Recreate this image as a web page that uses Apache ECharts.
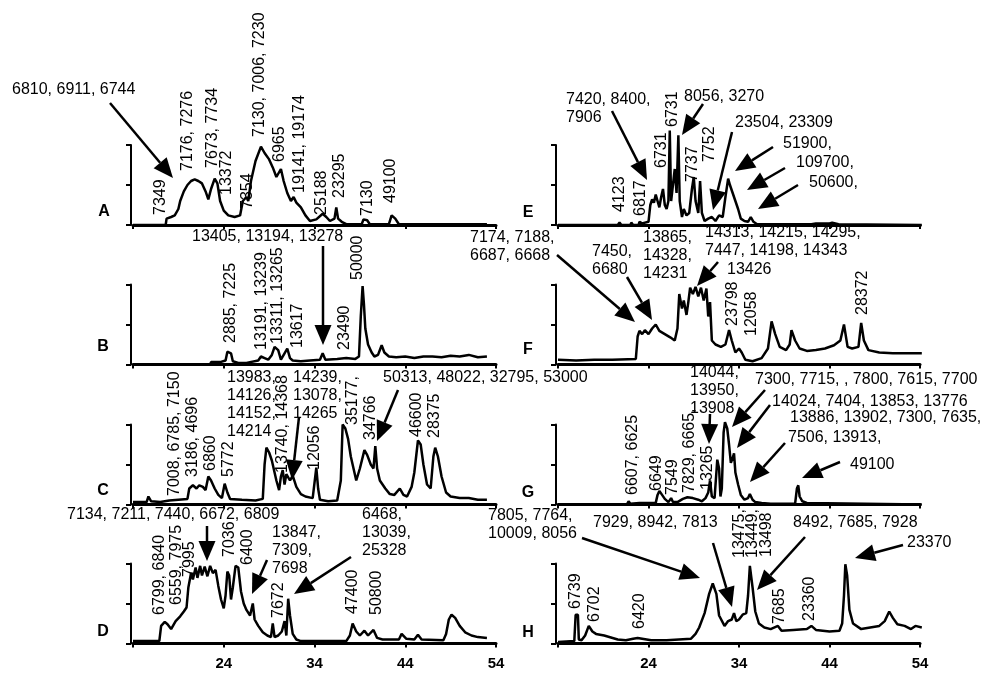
<!DOCTYPE html>
<html>
<head>
<meta charset="utf-8">
<script src="https://cdn.jsdelivr.net/npm/echarts@6/dist/echarts.min.js"></script>
<style>
html, body { margin: 0; padding: 0; background: #fff; }
#chartDiv { width: 982px; height: 673px; }
</style>
</head>
<body>
<div id="chartDiv"></div>
<script>
// 初始化图表
var myChart = echarts.init(document.getElementById('chartDiv'));

// 坐标轴
var xTicks = [14, 24, 34, 44, 54];
var panelNames = ['A', 'B', 'C', 'D', 'E', 'F', 'G', 'H'];

// 色谱曲线 (保留时间, 相对强度)
var traceA = [[14,0],[17.6,0],[17.7,0.08],[18.2,0.1],[18.6,0.12],[19.0,0.2],[19.2,0.3],[19.6,0.42],[20.0,0.5],[20.4,0.55],[20.8,0.57],[21.2,0.55],[21.6,0.52],[22.0,0.42],[22.3,0.32],[22.6,0.45],[23.0,0.58],[23.3,0.52],[23.6,0.3],[24.0,0.18],[24.5,0.12],[25.2,0.1],[25.8,0.12],[26.1,0.3],[26.5,0.35],[26.7,0.3],[27.0,0.55],[27.5,0.8],[28.1,0.98],[28.5,0.9],[29.0,0.82],[29.4,0.72],[29.8,0.6],[30.3,0.7],[30.6,0.55],[31.0,0.4],[31.4,0.3],[31.7,0.35],[32.0,0.28],[32.5,0.22],[33.0,0.12],[33.5,0.05],[34.2,0.07],[34.9,0.14],[35.3,0.1],[35.7,0.05],[36.2,0.08],[36.4,0.22],[36.6,0.08],[37.0,0.04],[37.5,0.01],[39.2,0.01],[39.4,0.07],[39.8,0.06],[40.1,0.01],[42.2,0.01],[42.5,0.12],[42.9,0.08],[43.3,0.01],[53,0.01]];
var traceB = [[14,0],[22.5,0],[22.6,0.03],[23.6,0.03],[24.2,0.05],[24.4,0.16],[24.8,0.14],[25.0,0.04],[25.6,0.02],[26.5,0.02],[27.8,0.05],[28.1,0.1],[28.5,0.08],[28.9,0.06],[29.3,0.12],[29.6,0.22],[30.0,0.18],[30.3,0.06],[30.7,0.14],[31.0,0.2],[31.3,0.08],[31.6,0.05],[32.5,0.04],[33.5,0.05],[34.6,0.06],[34.9,0.14],[35.2,0.06],[36.5,0.07],[37.5,0.08],[38.5,0.07],[38.9,0.1],[39.1,0.6],[39.3,0.98],[39.45,0.75],[39.6,0.45],[39.9,0.25],[40.3,0.15],[40.6,0.1],[41.0,0.12],[41.4,0.24],[41.7,0.15],[42.2,0.1],[43,0.09],[44,0.1],[45,0.08],[46,0.1],[47,0.1],[48,0.09],[49,0.11],[50,0.1],[51,0.12],[52,0.09],[53,0.1]];
var traceC = [[14,0.03],[15.5,0.03],[15.7,0.1],[16.0,0.04],[17,0.03],[18,0.05],[19,0.06],[20.0,0.07],[20.2,0.2],[20.6,0.24],[21.0,0.2],[21.3,0.24],[21.7,0.22],[22.0,0.18],[22.3,0.35],[22.6,0.3],[23.0,0.2],[23.4,0.12],[23.8,0.08],[24.1,0.26],[24.4,0.15],[24.7,0.07],[26,0.06],[27.5,0.05],[28.3,0.07],[28.5,0.5],[28.7,0.71],[29.0,0.65],[29.3,0.55],[29.6,0.4],[29.8,0.3],[30.1,0.18],[30.3,0.35],[30.5,0.43],[30.7,0.25],[30.9,0.38],[31.3,0.3],[31.6,0.36],[32.0,0.22],[32.5,0.13],[33,0.1],[33.8,0.08],[34.0,0.1],[34.2,0.46],[34.4,0.2],[34.6,0.06],[35.5,0.04],[36.5,0.05],[36.9,0.3],[37.1,1.0],[37.4,0.95],[37.7,0.82],[38.0,0.6],[38.3,0.45],[38.6,0.3],[39.0,0.45],[39.5,0.68],[39.8,0.62],[40.2,0.5],[40.5,0.45],[40.7,0.73],[40.9,0.45],[41.2,0.3],[41.8,0.2],[42.3,0.13],[42.8,0.12],[43.4,0.2],[43.8,0.12],[44.2,0.1],[44.7,0.22],[45.0,0.4],[45.4,0.8],[45.7,0.75],[46.0,0.5],[46.4,0.25],[46.8,0.2],[47.1,0.6],[47.3,0.71],[47.6,0.6],[48.0,0.35],[48.5,0.15],[49,0.1],[50,0.08],[51,0.08],[52,0.06],[53,0.06]];
var traceD = [[14,0.03],[16.9,0.03],[17.1,0.22],[17.5,0.27],[17.8,0.24],[18.2,0.18],[18.7,0.28],[19.2,0.34],[19.6,0.4],[19.9,0.45],[20.1,0.7],[20.4,0.88],[20.6,0.8],[20.9,0.95],[21.1,0.82],[21.4,0.97],[21.6,0.85],[21.9,0.96],[22.2,0.84],[22.5,0.97],[22.8,0.88],[23.1,0.92],[23.4,0.72],[23.7,0.55],[24.0,0.44],[24.2,0.6],[24.4,0.9],[24.6,0.85],[24.8,0.55],[25.0,0.7],[25.3,0.97],[25.6,0.95],[25.9,0.65],[26.2,0.5],[26.5,0.42],[26.9,0.35],[27.2,0.5],[27.4,0.3],[27.8,0.22],[28.3,0.14],[28.8,0.1],[29.2,0.08],[29.4,0.25],[29.6,0.08],[30.0,0.1],[30.4,0.15],[30.7,0.28],[30.9,0.1],[31.1,0.56],[31.3,0.35],[31.6,0.12],[32.0,0.05],[32.5,0.03],[37.5,0.03],[37.9,0.1],[38.2,0.25],[38.6,0.15],[39.0,0.1],[39.5,0.16],[39.9,0.1],[40.5,0.17],[40.9,0.07],[41.5,0.05],[42.5,0.05],[43.3,0.05],[43.6,0.12],[44.1,0.06],[45,0.05],[45.4,0.11],[45.8,0.05],[48.2,0.04],[48.5,0.12],[48.8,0.3],[49.1,0.36],[49.5,0.32],[50.0,0.22],[50.6,0.14],[51.3,0.1],[52,0.08],[53,0.07]];
var traceE = [[14,0],[20.6,0],[20.8,0.03],[21.0,0],[22.0,0],[22.1,0.03],[22.3,0],[22.9,0],[23.0,0.04],[23.3,0.02],[24.0,0.04],[24.2,0.25],[24.4,0.32],[24.6,0.28],[24.8,0.38],[25.0,0.3],[25.2,0.22],[25.4,0.35],[25.6,0.45],[25.8,0.25],[26.0,0.2],[26.2,0.3],[26.35,1.18],[26.5,0.3],[26.7,0.5],[26.9,0.7],[27.1,0.4],[27.3,1.12],[27.45,0.3],[27.7,0.1],[27.9,0.2],[28.2,0.12],[28.5,0.15],[28.8,0.45],[29.0,0.6],[29.2,0.3],[29.5,0.15],[29.7,0.55],[29.9,0.15],[30.2,0.05],[30.6,0.08],[31.0,0.1],[31.4,0.05],[31.8,0.12],[32.2,0.1],[32.5,0.35],[32.8,0.58],[33.0,0.5],[33.3,0.4],[33.6,0.3],[33.9,0.2],[34.2,0.08],[34.6,0.05],[35.0,0.04],[35.3,0.1],[35.6,0.04],[36,0.01],[42,0.01],[42.5,0.02],[44,0.02],[44.3,0.03],[45,0.01],[54.2,0]];
var traceF = [[14,0.06],[16,0.05],[18,0.06],[20,0.06],[22.6,0.07],[22.8,0.35],[23.0,0.42],[23.3,0.38],[23.6,0.43],[24.0,0.38],[24.4,0.45],[24.8,0.5],[25.2,0.42],[25.8,0.38],[26.4,0.34],[26.9,0.3],[27.2,0.45],[27.4,0.88],[27.7,0.7],[27.9,0.8],[28.2,0.62],[28.4,0.78],[28.6,0.96],[28.9,0.88],[29.2,0.97],[29.5,0.85],[29.8,0.96],[30.1,0.8],[30.4,0.95],[30.6,0.6],[30.8,0.78],[31.0,0.3],[31.4,0.25],[32.0,0.22],[32.5,0.25],[32.9,0.43],[33.2,0.3],[33.6,0.15],[34.0,0.2],[34.3,0.15],[34.7,0.06],[35.5,0.04],[36.5,0.08],[37.2,0.2],[37.6,0.54],[38.0,0.38],[38.5,0.22],[39.2,0.18],[39.6,0.25],[39.8,0.43],[40.2,0.3],[40.7,0.2],[41.5,0.17],[42.5,0.18],[43.5,0.2],[44.5,0.24],[45.2,0.3],[45.6,0.5],[46.0,0.22],[46.5,0.2],[47.2,0.22],[47.5,0.52],[47.8,0.3],[48.3,0.18],[49.5,0.15],[51,0.14],[52.5,0.14],[54.2,0.14]];
var traceG = [[14,0],[21.6,0],[21.8,0.04],[22.0,0.01],[23,0.02],[24.8,0.02],[25.0,0.12],[25.2,0.17],[25.5,0.12],[25.8,0.07],[26.2,0.03],[26.5,0.08],[26.7,0.03],[27.2,0.03],[27.8,0.07],[28.3,0.09],[28.9,0.08],[29.5,0.06],[29.9,0.04],[30.3,0.08],[30.6,0.15],[30.8,0.3],[31.0,0.1],[31.3,0.08],[31.5,0.4],[31.6,0.56],[31.8,0.45],[31.95,0.1],[32.1,0.2],[32.3,0.9],[32.45,1.03],[32.7,0.95],[32.9,0.75],[33.1,0.52],[33.3,0.58],[33.45,0.64],[33.6,0.4],[33.9,0.25],[34.2,0.12],[34.6,0.06],[35.0,0.08],[35.2,0.13],[35.5,0.06],[35.8,0.03],[36.5,0.02],[37.5,0.01],[40.2,0.01],[40.4,0.2],[40.55,0.24],[40.7,0.1],[41.0,0.04],[41.5,0.02],[54.2,0]];
var traceH = [[14,0.02],[15.8,0.03],[15.95,0.36],[16.2,0.36],[16.3,0.05],[16.6,0.04],[17.0,0.1],[17.4,0.22],[17.8,0.15],[18.2,0.12],[19.1,0.1],[20.6,0.05],[21.5,0.04],[22.3,0.06],[22.8,0.07],[23.3,0.06],[24.3,0.04],[26,0.04],[28.7,0.06],[29.2,0.12],[29.6,0.2],[30.2,0.38],[30.7,0.62],[31.1,0.75],[31.5,0.62],[31.8,0.35],[32.4,0.22],[32.8,0.28],[33.2,0.3],[33.45,0.38],[33.7,0.28],[34.0,0.3],[34.4,0.36],[34.8,0.38],[35.0,0.6],[35.2,0.97],[35.5,0.7],[35.8,0.4],[36.2,0.25],[36.8,0.2],[37.5,0.18],[38.3,0.22],[38.7,0.16],[40,0.17],[41.5,0.18],[42,0.22],[42.5,0.17],[44,0.15],[45.1,0.16],[45.4,0.25],[45.6,0.6],[45.75,0.99],[45.95,0.85],[46.2,0.42],[46.6,0.25],[47.5,0.18],[48.5,0.2],[49.5,0.22],[50.1,0.28],[50.6,0.4],[51.0,0.32],[51.5,0.24],[52.3,0.22],[53,0.18],[53.5,0.22],[54.2,0.2]];
var traces = [traceA, traceB, traceC, traceD, traceE, traceF, traceG, traceH];

// 竖排标注 [文字, 中心x, 底部y]
var rotatedLabels = [
    ['7349', 161, 215], ['7176, 7276', 187.5, 171], ['7673, 7734', 213, 168], ['13372', 227, 195],
    ['7354', 248, 209], ['7130, 7006, 7230', 260, 137], ['6965', 280, 162], ['19141, 19174', 300, 193],
    ['25188', 322, 215], ['23295', 340, 198], ['7130', 368, 216], ['49100', 391, 203],
    ['2885, 7225', 231, 343], ['13191, 13239', 261.5, 350], ['13311, 13265', 278, 344], ['13617', 298, 348],
    ['23490', 345, 350], ['50000', 358, 280],
    ['7008, 6785, 7150', 175, 496], ['3186, 4696', 193, 477], ['6860', 210.5, 471], ['5772', 229, 477],
    ['13740, 14368', 283, 473], ['12056', 315, 470], ['35177,', 353, 425], ['34766', 371, 440],
    ['46600', 416.5, 437], ['28375', 435, 438],
    ['6799, 6840', 160, 615], ['6559, 7975', 176.5, 605], ['7995', 190, 577], ['7036', 230, 557],
    ['6400', 248, 565], ['7672', 279, 618], ['47400', 352.5, 614], ['50800', 376.5, 615],
    ['4123', 620, 212], ['6817', 641, 216], ['6731', 662, 168], ['6731', 673, 127], ['7737', 693, 182], ['7752', 710, 162],
    ['23798', 732.5, 326], ['12058', 751.5, 336], ['28372', 863, 315],
    ['6607, 6625', 633, 495], ['6649', 656.5, 491], ['7549', 673, 495], ['7829, 6665,', 690, 493], ['13265', 708, 490],
    ['6739', 576, 609], ['6702', 595, 622], ['6420', 640, 629], ['13475,', 740, 558], ['13449,', 753, 558],
    ['13498', 766.5, 557], ['7685', 780, 624], ['23360', 810, 621]
];

// 横排标注 [文字, 左x, 首行中心y]
var flatLabels = [
    ['6810, 6911, 6744', 12, 90],
    ['13405, 13194, 13278', 192, 237],
    ['13983,\n14126,\n14152,\n14214', 227, 378],
    ['14239,\n13078,\n14265', 293, 378],
    ['50313, 48022, 32795, 53000', 383, 378],
    ['7134, 7211, 7440, 6672, 6809', 67, 515],
    ['13847,\n7309,\n7698', 272, 533],
    ['6468,\n13039,\n25328', 362, 515],
    ['7420, 8400,\n7906', 566, 100],
    ['8056, 3270', 684, 97],
    ['23504, 23309', 735, 123],
    ['51900,', 783, 144],
    ['109700,', 796, 163],
    ['50600,', 809, 183],
    ['7174, 7188,\n6687, 6668', 470, 238],
    ['7450,\n6680', 592, 252],
    ['13865,\n14328,\n14231', 643, 238],
    ['14313, 14215, 14295,\n7447, 14198, 14343', 705, 233],
    ['13426', 727, 270],
    ['14044,\n13950,\n13908', 690, 373],
    ['7300, 7715, , 7800, 7615, 7700', 755, 380],
    ['14024, 7404, 13853, 13776', 772, 402],
    ['13886, 13902, 7300, 7635,', 790, 418],
    ['7506, 13913,', 788, 438],
    ['49100', 850, 465],
    ['7805, 7764,\n10009, 8056', 488, 516],
    ['7929, 8942, 7813', 593, 523],
    ['8492, 7685, 7928', 793, 523],
    ['23370', 907, 543]
];

// 箭头 [起点x, 起点y, 终点x, 终点y]
var arrows = [
    [110, 103, 173, 178], [323, 246, 323, 345], [299, 417, 292, 480], [398, 390, 377, 441],
    [207, 526, 207, 561], [267, 560, 252, 594], [351, 557, 294, 594],
    [612, 111, 647, 180], [703, 104, 682, 135], [732, 132, 713, 210], [773, 147, 735, 171],
    [785, 168, 747, 190], [798, 185, 758, 209],
    [557, 255, 635, 322], [627, 277, 652, 320], [718, 262, 697, 286],
    [710, 414, 709, 444], [765, 390, 732, 427], [770, 405, 737, 448], [785, 443, 750, 482], [840, 462, 802, 478],
    [582, 538, 700, 578], [713, 543, 732, 607], [805, 537, 757, 590], [903, 545, 855, 558]
];

// 面板位置
var gridTops = [145, 284.5, 424.5, 563.5];
var letterPos = [[104, 212], [103, 347], [103, 491], [103, 632], [528, 213], [528, 350], [528, 493], [528, 633]];
var font = '16px "Liberation Sans", Arial, sans-serif';

var grids = [], xAxes = [], yAxes = [], series = [];
for (var i = 0; i < 8; i++) {
    var right = i >= 4;
    grids.push({
        left: right ? 558 : 133,
        width: right ? 362 : 363,
        top: gridTops[i % 4],
        height: 80
    });
    xAxes.push({
        type: 'value', gridIndex: i, min: 14, max: 54, interval: 10,
        axisLine: {show: true, onZero: false, lineStyle: {color: '#000', width: 3}},
        axisTick: {show: true, length: 4, lineStyle: {color: '#000', width: 2}},
        axisLabel: {
            show: i % 4 === 3,
            color: '#000', fontSize: 15, fontWeight: 'bold',
            fontFamily: 'Liberation Sans', margin: 13,
            formatter: function (v) { return v === xTicks[0] ? '' : String(v); }
        },
        splitLine: {show: false}
    });
    yAxes.push({
        type: 'value', gridIndex: i, min: 0, max: 1, interval: 0.5, offset: 2,
        axisLine: {show: true, lineStyle: {color: '#000', width: 2}},
        axisTick: {show: true, length: 5, lineStyle: {color: '#000', width: 2}},
        axisLabel: {show: false},
        splitLine: {show: false}
    });
    series.push({
        type: 'line', xAxisIndex: i, yAxisIndex: i,
        data: traces[i], symbol: 'none', clip: false,
        lineStyle: {color: '#000', width: 2.5}
    });
}

// 标注图形
var graphics = [];
panelNames.forEach(function (name, k) {
    graphics.push({
        type: 'text', x: letterPos[k][0], y: letterPos[k][1],
        style: {text: name, font: 'bold 16px "Liberation Sans", Arial, sans-serif', fill: '#000', align: 'center', verticalAlign: 'middle'}
    });
});
rotatedLabels.forEach(function (l) {
    graphics.push({
        type: 'text', x: l[1], y: l[2], rotation: Math.PI / 2,
        style: {text: l[0], font: font, fill: '#000', align: 'left', verticalAlign: 'middle'}
    });
});
flatLabels.forEach(function (l) {
    l[0].split('\n').forEach(function (line, j) {
        graphics.push({
            type: 'text', x: l[1], y: l[2] + j * 17.7,
            style: {text: line, font: font, fill: '#000', align: 'left', verticalAlign: 'middle'}
        });
    });
});
arrows.forEach(function (a) {
    var dx = a[2] - a[0], dy = a[3] - a[1];
    var len = Math.sqrt(dx * dx + dy * dy);
    var ux = dx / len, uy = dy / len;
    var headL = Math.min(20, len * 0.8), headW = 8.5;
    var bx = a[2] - ux * headL, by = a[3] - uy * headL;
    graphics.push({
        type: 'line',
        shape: {x1: a[0], y1: a[1], x2: bx, y2: by},
        style: {stroke: '#000', lineWidth: 2.5}
    });
    graphics.push({
        type: 'polygon',
        shape: {points: [[a[2], a[3]], [bx - uy * headW, by + ux * headW], [bx + uy * headW, by - ux * headW]]},
        style: {fill: '#000'}
    });
});

var option = {
    backgroundColor: '#fff',
    animation: false,
    grid: grids,
    xAxis: xAxes,
    yAxis: yAxes,
    series: series,
    graphic: graphics
};
myChart.setOption(option);
</script>
</body>
</html>
